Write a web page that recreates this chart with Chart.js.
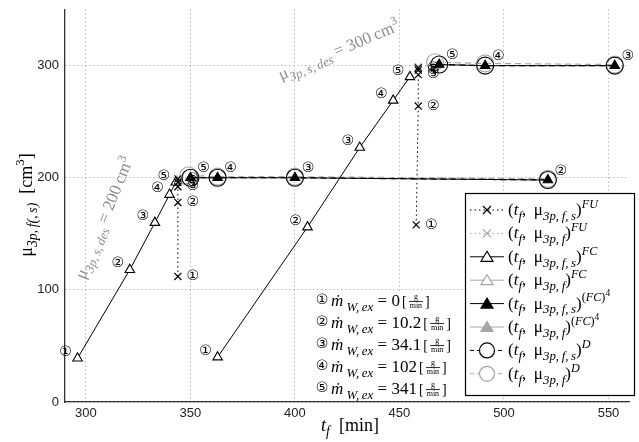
<!DOCTYPE html>
<html>
<head>
<meta charset="utf-8">
<script src="https://cdn.jsdelivr.net/npm/chart.js@4.4.1/dist/chart.umd.min.js"></script>
<style>
  html, body { margin: 0; padding: 0; background: #fff; }
</style>
</head>
<body>
<canvas id="c" width="639" height="442"></canvas>
<script>
// axis ticks
const xTicks = [300, 350, 400, 450, 500, 550];
const yTicks = [0, 100, 200, 300];

// FU: (t_f, mu_3p,f,s)^FU  crosses
const fuRun1T = [344, 344, 344, 344, 344];
const fuRun1Mu = [112, 178, 192, 196, 199];
const fuRun2T = [458, 459, 459, 459, 459];
const fuRun2Mu = [158, 264, 292, 296, 298];
const fuNo = [1, 2, 3, 4, 5];

// gray FU: (t_f, mu_3p,f)^FU
const fuGrayRun1T = [345, 345];
const fuGrayRun1Mu = [197, 199];
const fuGrayRun2T = [459, 459];
const fuGrayRun2Mu = [297, 299];

// FC: open triangles
const fcRun1T = [296, 321, 333, 340, 343];
const fcRun1Mu = [39, 118, 160, 185, 196];
const fcRun2T = [363, 406, 431, 447, 455];
const fcRun2Mu = [40, 156, 227, 269, 290];
const fcNo = [1, 2, 3, 4, 5];

// (FC)^4: filled triangles
const fc4Run1T = [350, 363, 400, 521];
const fc4Run1Mu = [200, 200, 200, 198];
const fc4Run1No = [5, 4, 3, 2];
const fc4Run2T = [469, 491, 553];
const fc4Run2Mu = [301, 300, 300];
const fc4Run2No = [5, 4, 3];

// D: open circles, dashed
const dRun1T = [350, 363, 400, 521];
const dRun1Mu = [200, 200, 200, 198];
const dRun2T = [469, 491, 553];
const dRun2Mu = [301, 300, 300];
const dGrayRun1T = [349, 363, 400, 521];
const dGrayRun1Mu = [202, 201, 201, 199];
const dGrayRun2T = [467, 491, 553];
const dGrayRun2Mu = [303, 302, 301];

// mass flow legend
const flowVals = ['0', '10.2', '34.1', '102', '341'];

const circ = ['\u2460', '\u2461', '\u2462', '\u2463', '\u2464'];
const GRAY = '#a6a6a6';
const SERIF = '"Liberation Serif", "DejaVu Serif", serif';
const TS = '\u2009';

function pts(t, mu) {
    return t.map((v, i) => ({x: v, y: mu[i]}));
}

// kinds: size factor, baseline shift factor, italic
const K = {
    r: [1, 0, false], i: [1, 0, true],
    b: [0.76, 0.28, true], br: [0.76, 0.28, false],
    p: [0.72, -0.42, true], pr: [0.72, -0.42, false],
    pp: [0.56, -0.72, false]
};

function rich(ctx, x, y, segs, size, color, align) {
    const font = k => (K[k][2] ? 'italic ' : '') + (size * K[k][0]).toFixed(1) + 'px ' + SERIF;
    let w = 0;
    segs.forEach(s => { ctx.font = font(s[1]); w += ctx.measureText(s[0]).width; });
    let cx = align === 'center' ? x - w / 2 : x;
    ctx.fillStyle = color;
    ctx.textAlign = 'left';
    ctx.textBaseline = 'alphabetic';
    segs.forEach(s => {
        ctx.font = font(s[1]);
        ctx.fillText(s[0], cx, y + size * K[s[1]][1]);
        cx += ctx.measureText(s[0]).width;
    });
    return w;
}

function marker(ctx, style, x, y, color, fill) {
    ctx.save();
    ctx.strokeStyle = color;
    ctx.lineWidth = 1.2;
    ctx.setLineDash([]);
    ctx.beginPath();
    if (style === 'cross') {
        ctx.moveTo(x - 4, y - 4); ctx.lineTo(x + 4, y + 4);
        ctx.moveTo(x + 4, y - 4); ctx.lineTo(x - 4, y + 4);
        ctx.stroke();
    } else if (style === 'tri') {
        ctx.moveTo(x, y - 5.5); ctx.lineTo(x + 6, y + 4.5); ctx.lineTo(x - 6, y + 4.5); ctx.closePath();
        ctx.fillStyle = fill; ctx.fill(); ctx.stroke();
    } else {
        ctx.arc(x, y, 7.5, 0, Math.PI * 2);
        ctx.fillStyle = '#fff'; ctx.fill(); ctx.stroke();
    }
    ctx.restore();
}

const legendRows = [
    {st: 'cross', c: '#000', f: '#000', dash: [1.5, 3], s: true, sup: [['FU', 'p']]},
    {st: 'cross', c: GRAY, f: GRAY, dash: [1.5, 3], s: false, sup: [['FU', 'p']]},
    {st: 'tri', c: '#000', f: '#fff', dash: [], s: true, sup: [['FC', 'p']]},
    {st: 'tri', c: GRAY, f: '#fff', dash: [], s: false, sup: [['FC', 'p']]},
    {st: 'tri', c: '#000', f: '#000', dash: [], s: true, sup: [['(', 'pr'], ['FC', 'p'], [')', 'pr'], ['4', 'pp']]},
    {st: 'tri', c: GRAY, f: GRAY, dash: [], s: false, sup: [['(', 'pr'], ['FC', 'p'], [')', 'pr'], ['4', 'pp']]},
    {st: 'circ', c: '#000', f: '#fff', dash: [4, 3], s: true, sup: [['D', 'p']]},
    {st: 'circ', c: GRAY, f: '#fff', dash: [4, 3], s: false, sup: [['D', 'p']]}
];

const annot = {
    id: 'annot',
    afterDatasetsDraw(chart) {
        const ctx = chart.ctx;
        ctx.save();
        chart.data.datasets.forEach((ds, di) => {
            if (!ds.nums) return;
            const meta = chart.getDatasetMeta(di);
            ctx.font = '14px "DejaVu Sans"';
            ctx.fillStyle = '#000';
            ctx.textAlign = 'center';
            ctx.textBaseline = 'middle';
            meta.data.forEach((p, j) => {
                ctx.fillText(circ[ds.nums[j] - 1], p.x + ds.ldx, p.y + ds.ldy);
            });
        });
        ctx.restore();
    },
    afterDraw(chart) {
        const ctx = chart.ctx;
        ctx.save();

        // rotated design targets
        ctx.save();
        ctx.translate(109, 220);
        ctx.rotate(-68 * Math.PI / 180);
        rich(ctx, 0, 0, [['μ', 'r'], ['3p,' + TS + 's,' + TS + 'des', 'b'], [' = 200' + TS + 'cm', 'r'], ['3', 'pr']], 17, '#8c8c8c', 'center');
        ctx.restore();
        ctx.save();
        ctx.translate(341, 55);
        ctx.rotate(-23 * Math.PI / 180);
        rich(ctx, 0, 0, [['μ', 'r'], ['3p,' + TS + 's,' + TS + 'des', 'b'], [' = 300' + TS + 'cm', 'r'], ['3', 'pr']], 17, '#8c8c8c', 'center');
        ctx.restore();

        // mass flow legend
        ctx.fillStyle = '#fff';
        ctx.fillRect(310, 291, 150, 109);
        flowVals.forEach((v, i) => {
            const y = 300 + i * 22;
            ctx.font = '14px "DejaVu Sans"';
            ctx.fillStyle = '#000';
            ctx.textAlign = 'center';
            ctx.textBaseline = 'middle';
            ctx.fillText(circ[i], 322, y);
            let x = 331;
            x += rich(ctx, x, y + 6, [['ṁ', 'i'], [' W,' + TS + 'ex', 'b'], [' = ', 'r'], [v, 'r']], 17, '#000');
            ctx.font = '14px ' + SERIF;
            ctx.textAlign = 'left';
            ctx.textBaseline = 'alphabetic';
            ctx.fillText('[', x + 2, y + 6);
            ctx.font = '8px ' + SERIF;
            ctx.textAlign = 'center';
            ctx.fillText('g', x + 16, y - 1);
            ctx.fillText('min', x + 16, y + 8);
            ctx.fillRect(x + 9, y + 1, 14, 0.8);
            ctx.font = '14px ' + SERIF;
            ctx.textAlign = 'left';
            ctx.fillText(']', x + 25, y + 6);
        });

        // series legend
        ctx.fillStyle = '#fff';
        ctx.fillRect(465, 193, 170, 203);
        ctx.strokeStyle = '#000';
        ctx.lineWidth = 1.2;
        ctx.strokeRect(465.5, 193.5, 169, 202);
        legendRows.forEach((r, i) => {
            const y = 210 + i * 23.4;
            ctx.save();
            ctx.strokeStyle = r.c;
            ctx.lineWidth = 1;
            ctx.setLineDash(r.dash);
            ctx.beginPath();
            ctx.moveTo(470, y);
            ctx.lineTo(504, y);
            ctx.stroke();
            ctx.restore();
            marker(ctx, r.st, 487, y, r.c, r.f);
            const sub = r.s ? '3p,' + TS + 'f,' + TS + 's' : '3p,' + TS + 'f';
            const segs = [['(', 'r'], ['t', 'i'], ['f', 'b'], [',' + TS + ' ', 'r'], ['μ', 'r'], [sub, 'b'], [')', 'r']];
            rich(ctx, 508, y + 5, segs.concat(r.sup), 17, '#000');
        });

        // axis titles
        rich(ctx, 350, 431, [['t', 'i'], ['f', 'b'], ['  [min]', 'r']], 18, '#000', 'center');
        ctx.save();
        ctx.translate(32, 205);
        ctx.rotate(-Math.PI / 2);
        rich(ctx, 0, 0, [['μ', 'r'], ['3p,' + TS + 'f(,' + TS + 's)', 'b'], ['  [cm', 'r'], ['3', 'pr'], [']', 'r']], 18, '#000', 'center');
        ctx.restore();

        ctx.restore();
    }
};

const crossDs = (t, mu, color, nums) => ({
    data: pts(t, mu),
    showLine: true,
    borderColor: color,
    borderWidth: 1,
    borderDash: [1.5, 3],
    pointStyle: 'crossRot',
    pointRadius: 5,
    pointBorderWidth: 1.2,
    pointBorderColor: color,
    nums: nums, ldx: 15, ldy: 0,
    order: nums ? 2 : 6
});
const triDs = (t, mu, color, fill, nums, ldx, ldy, order) => ({
    data: pts(t, mu),
    showLine: true,
    borderColor: color,
    borderWidth: 1,
    pointStyle: 'triangle',
    pointRadius: 5.5,
    pointBorderWidth: 1.1,
    pointBorderColor: color,
    pointBackgroundColor: fill,
    nums: nums, ldx: ldx, ldy: ldy,
    order: order
});
const circDs = (t, mu, color, order) => ({
    data: pts(t, mu),
    showLine: true,
    borderColor: color,
    borderWidth: 1.2,
    borderDash: [6, 4],
    pointStyle: 'circle',
    pointRadius: 8.5,
    pointBorderWidth: 1.1,
    pointBorderColor: color,
    pointBackgroundColor: 'rgba(255,255,255,0)',
    order: order
});

new Chart(document.getElementById('c'), {
    type: 'scatter',
    data: {
        datasets: [
            circDs(dGrayRun1T, dGrayRun1Mu, GRAY, 8),
            circDs(dGrayRun2T, dGrayRun2Mu, GRAY, 8),
            crossDs(fuGrayRun1T, fuGrayRun1Mu, GRAY, null),
            crossDs(fuGrayRun2T, fuGrayRun2Mu, GRAY, null),
            circDs(dRun1T, dRun1Mu, '#000', 4),
            circDs(dRun2T, dRun2Mu, '#000', 4),
            crossDs(fuRun1T, fuRun1Mu, '#000', fuNo),
            crossDs(fuRun2T, fuRun2Mu, '#000', fuNo),
            triDs(fcRun1T, fcRun1Mu, '#000', '#fff', fcNo, -12, -6, 3),
            triDs(fcRun2T, fcRun2Mu, '#000', '#fff', fcNo, -12, -6, 3),
            triDs(fc4Run1T, fc4Run1Mu, '#000', '#000', fc4Run1No, 13, -9, 1),
            triDs(fc4Run2T, fc4Run2Mu, '#000', '#000', fc4Run2No, 13, -9, 1)
        ]
    },
    options: {
        responsive: false,
        animation: false,
        layout: {padding: {top: 0, right: 2, left: 0, bottom: 0}},
        plugins: {
            legend: {display: false},
            tooltip: {enabled: false}
        },
        scales: {
            x: {
                type: 'linear',
                min: 290,
                max: 560,
                afterBuildTicks: s => { s.ticks = xTicks.map(v => ({value: v})); },
                afterFit: s => { s.height = 40; },
                ticks: {
                    font: {family: '"Liberation Sans", Arial, sans-serif', size: 13},
                    color: '#222',
                    padding: 4
                },
                grid: {color: '#9a9a9a', lineWidth: 1, drawTicks: false},
                border: {display: true, color: '#333', width: 1.3, dash: [1, 3]}
            },
            y: {
                type: 'linear',
                min: 0,
                max: 350,
                afterBuildTicks: s => { s.ticks = yTicks.map(v => ({value: v})); },
                afterFit: s => { s.width = 65; s.paddingTop = 7; s.paddingBottom = 0; },
                ticks: {
                    font: {family: '"Liberation Sans", Arial, sans-serif', size: 13},
                    color: '#222',
                    padding: 6
                },
                grid: {color: '#9a9a9a', lineWidth: 1, drawTicks: false},
                border: {display: true, color: '#333', width: 1.3, dash: [1, 3]}
            }
        }
    },
    plugins: [annot]
});
</script>
</body>
</html>
